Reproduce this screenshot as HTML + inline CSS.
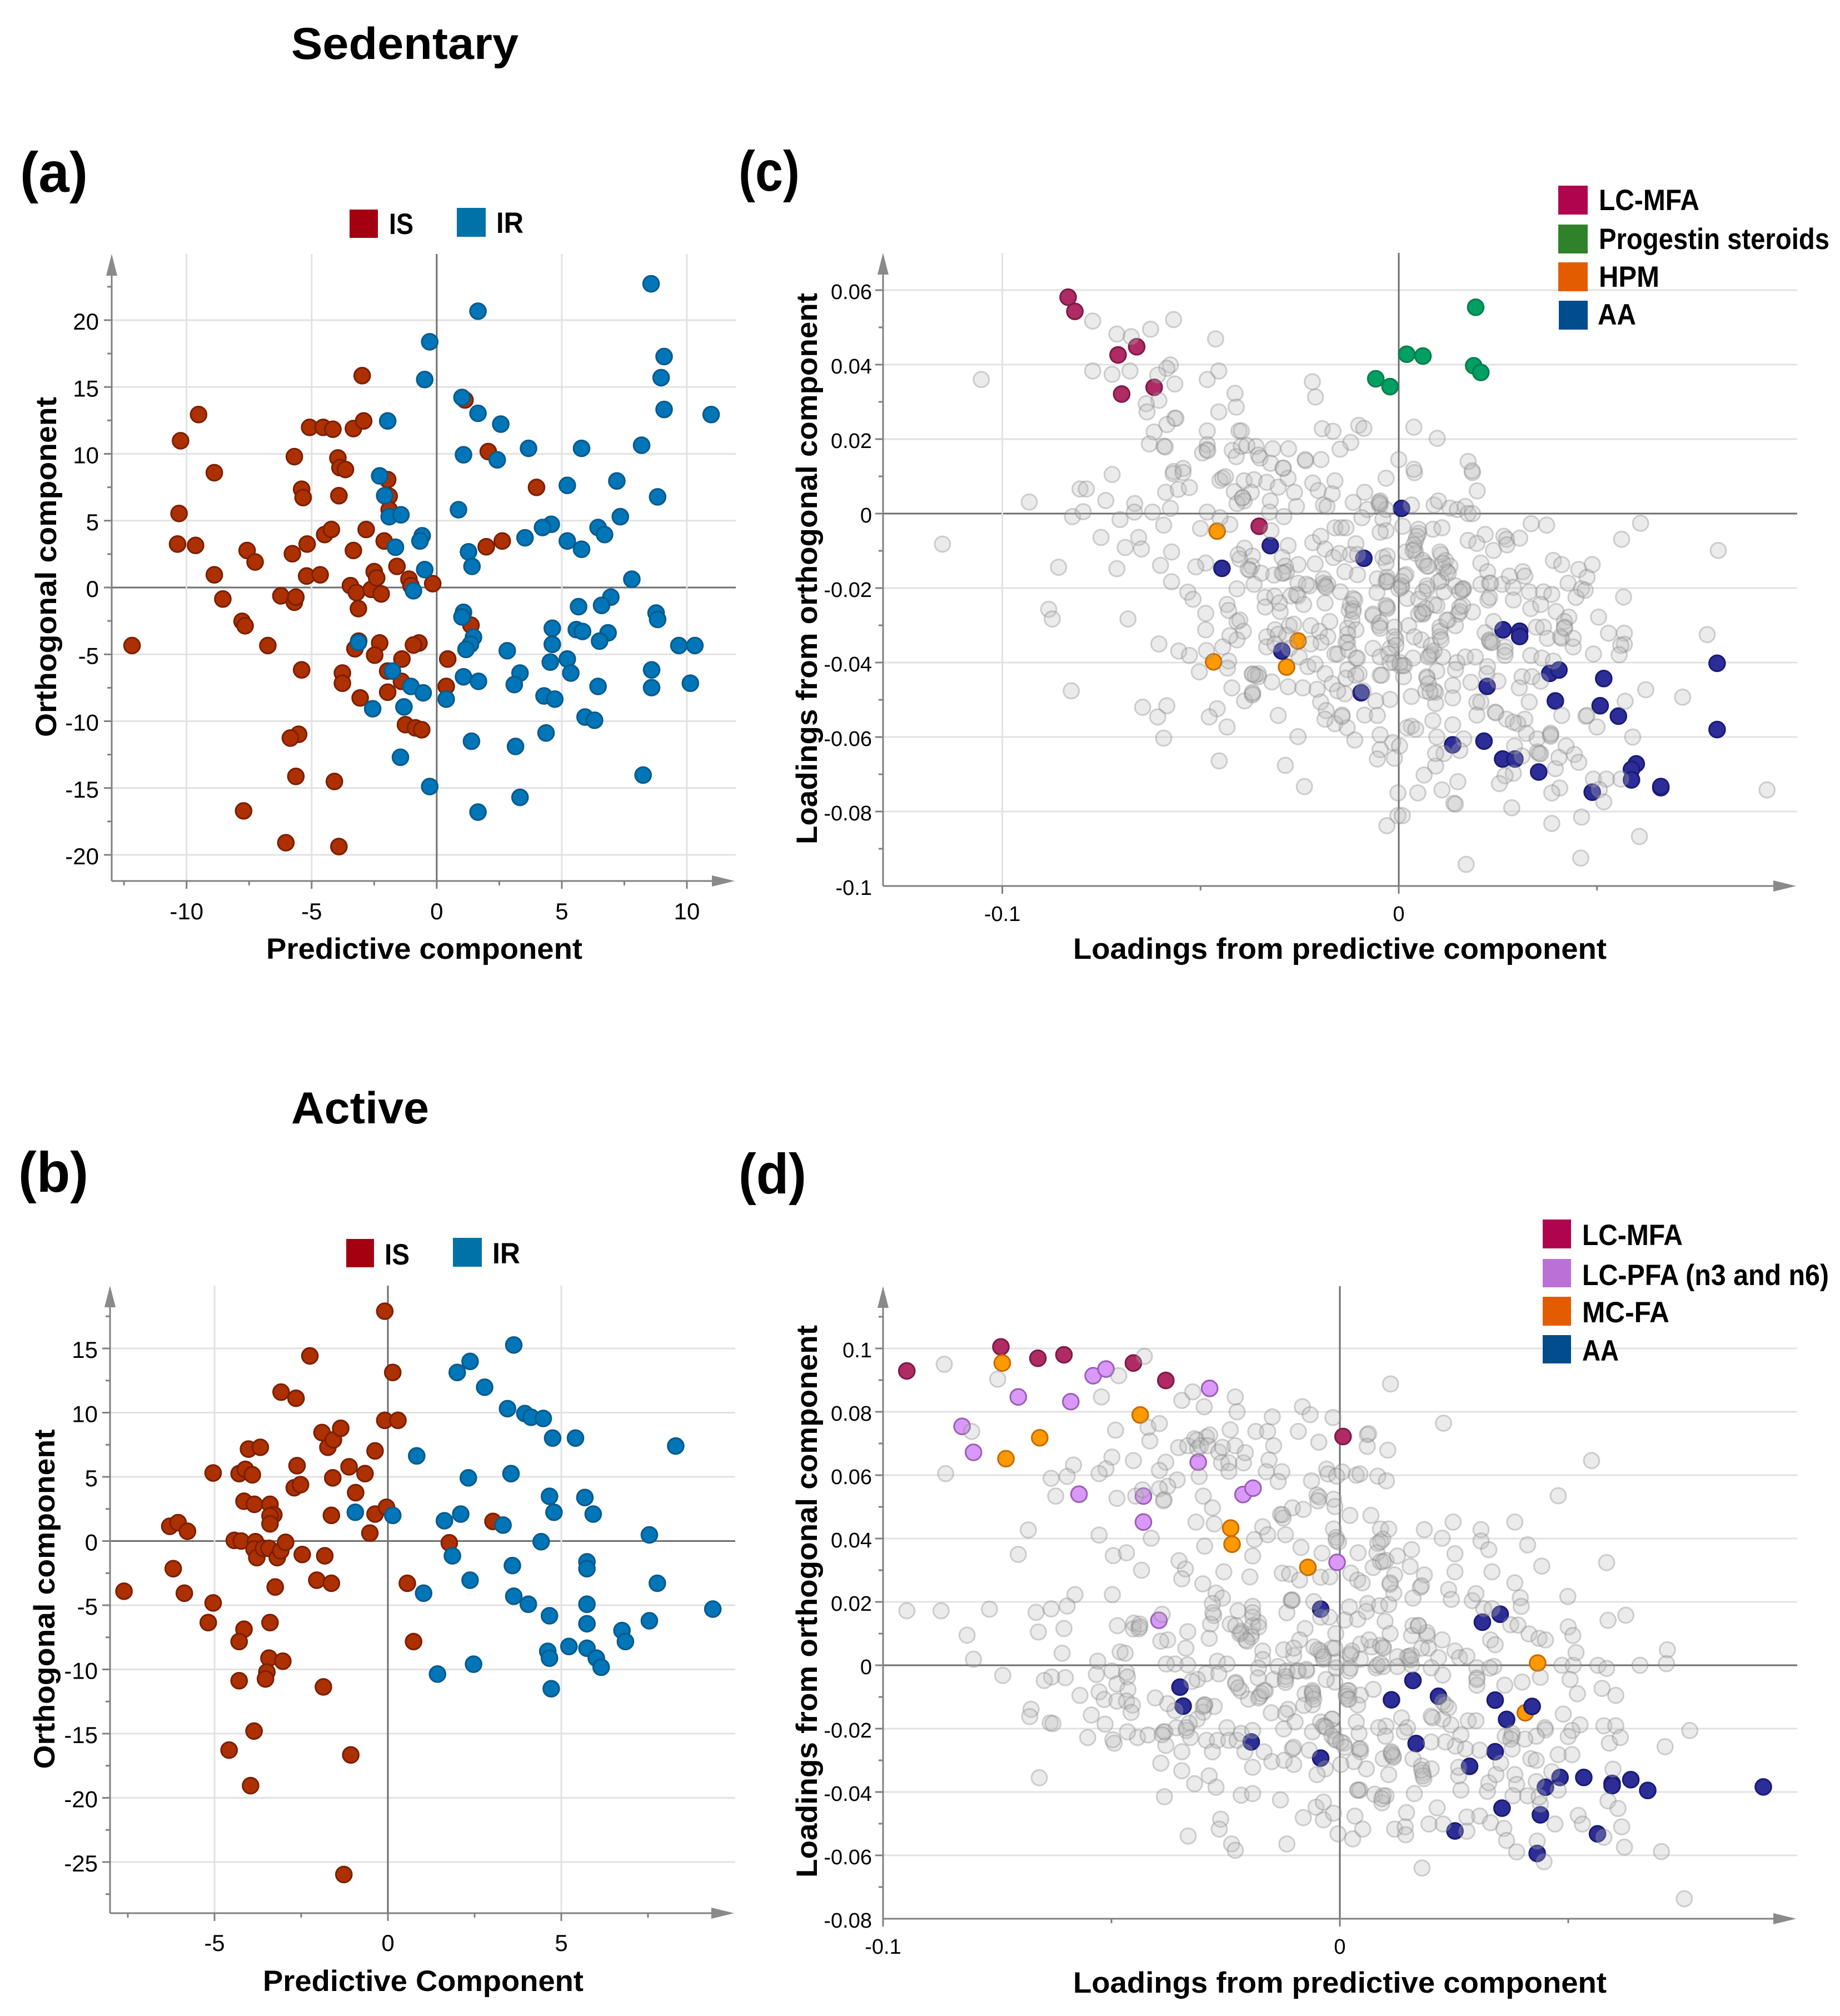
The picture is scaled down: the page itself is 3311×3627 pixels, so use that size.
<!DOCTYPE html>
<html lang="en">
<head>
<meta charset="utf-8">
<title>OPLS-DA scores and loadings: Sedentary and Active</title>
<style>
html,body{margin:0;padding:0;background:#fff}
svg{display:block}
text{font-family:"Liberation Sans",Arial,sans-serif;fill:#000}
.b{font-weight:700}
</style>
</head>
<body>
<svg id="figure" xmlns="http://www.w3.org/2000/svg" width="3311" height="3627" viewBox="0 0 3311 3627">
<rect width="3311" height="3627" fill="#fff"/>
<text class="b" x="524" y="106" font-size="81" textLength="409" lengthAdjust="spacingAndGlyphs">Sedentary</text>
<text class="b" x="524" y="2021" font-size="81" textLength="248" lengthAdjust="spacingAndGlyphs">Active</text>
<text class="b" x="36" y="345" font-size="102" textLength="122" lengthAdjust="spacingAndGlyphs">(a)</text>
<text class="b" x="33" y="2144" font-size="102" textLength="126" lengthAdjust="spacingAndGlyphs">(b)</text>
<text class="b" x="1329" y="343" font-size="102" textLength="110" lengthAdjust="spacingAndGlyphs">(c)</text>
<text class="b" x="1329" y="2147" font-size="102" textLength="122" lengthAdjust="spacingAndGlyphs">(d)</text>

<g id="panel-a"></g>
<g id="panel-b"></g>
<g id="panel-c"></g>
<g id="panel-d"></g>

<text class="b" x="479" y="1725" font-size="53" textLength="569" lengthAdjust="spacingAndGlyphs">Predictive component</text>
<text class="b" text-anchor="middle" transform="translate(101,1020) rotate(-90)" font-size="53" textLength="612" lengthAdjust="spacingAndGlyphs">Orthogonal component</text>
<text class="b" x="473" y="3582" font-size="53" textLength="577" lengthAdjust="spacingAndGlyphs">Predictive Component</text>
<text class="b" text-anchor="middle" transform="translate(98,2877) rotate(-90)" font-size="53" textLength="611" lengthAdjust="spacingAndGlyphs">Orthogonal component</text>
<text class="b" x="1931" y="1725" font-size="53" textLength="960" lengthAdjust="spacingAndGlyphs">Loadings from predictive component</text>
<text class="b" text-anchor="middle" transform="translate(1470,1023) rotate(-90)" font-size="53" textLength="992" lengthAdjust="spacingAndGlyphs">Loadings from orthogonal component</text>
<text class="b" x="1931" y="3585" font-size="53" textLength="960" lengthAdjust="spacingAndGlyphs">Loadings from predictive component</text>
<text class="b" text-anchor="middle" transform="translate(1470,2881) rotate(-90)" font-size="53" textLength="994" lengthAdjust="spacingAndGlyphs">Loadings from orthogonal component</text>

<g>
<rect x="629" y="377" width="51" height="51" fill="#a50010"/>
<text class="b" x="700" y="421" font-size="53" textLength="44" lengthAdjust="spacingAndGlyphs">IS</text>
<rect x="822" y="374" width="52" height="52" fill="#0072a8"/>
<text class="b" x="893" y="419" font-size="53" textLength="49" lengthAdjust="spacingAndGlyphs">IR</text>
</g>
<g>
<rect x="623" y="2229" width="50" height="51" fill="#a50010"/>
<text class="b" x="692" y="2275" font-size="53" textLength="45" lengthAdjust="spacingAndGlyphs">IS</text>
<rect x="815" y="2227" width="52" height="52" fill="#0072a8"/>
<text class="b" x="886" y="2273" font-size="53" textLength="50" lengthAdjust="spacingAndGlyphs">IR</text>
</g>
<g>
<rect x="2804" y="334" width="53" height="52" fill="#b0044f"/>
<text class="b" x="2877" y="378" font-size="53" textLength="181" lengthAdjust="spacingAndGlyphs">LC-MFA</text>
<rect x="2804" y="404" width="53" height="52" fill="#2f8229"/>
<text class="b" x="2877" y="448" font-size="53" textLength="415" lengthAdjust="spacingAndGlyphs">Progestin steroids</text>
<rect x="2804" y="472" width="53" height="52" fill="#e35d00"/>
<text class="b" x="2877" y="516" font-size="53" textLength="109" lengthAdjust="spacingAndGlyphs">HPM</text>
<rect x="2805" y="541" width="52" height="52" fill="#004c8c"/>
<text class="b" x="2875" y="584" font-size="53" textLength="69" lengthAdjust="spacingAndGlyphs">AA</text>
</g>
<g>
<rect x="2776" y="2194" width="51" height="52" fill="#b0044f"/>
<text class="b" x="2847" y="2240" font-size="53" textLength="181" lengthAdjust="spacingAndGlyphs">LC-MFA</text>
<rect x="2776" y="2265" width="51" height="51" fill="#bb70d8"/>
<text class="b" x="2847" y="2312" font-size="53" textLength="444" lengthAdjust="spacingAndGlyphs">LC-PFA (n3 and n6)</text>
<rect x="2776" y="2333" width="51" height="52" fill="#e35d00"/>
<text class="b" x="2847" y="2379" font-size="53" textLength="157" lengthAdjust="spacingAndGlyphs">MC-FA</text>
<rect x="2776" y="2402" width="51" height="51" fill="#004c8c"/>
<text class="b" x="2847" y="2448" font-size="53" textLength="66" lengthAdjust="spacingAndGlyphs">AA</text>
</g>
</svg>

<script>
// ---------- Panel (a): score plot, Sedentary. Pairs are [predictive, orthogonal].
const aXTicks=[-10,-5,0,5,10];
const aXTickLabels=['-10','-5','0','5','10'];
const aXMinorTicks=[-12.5,-7.5,-2.5,2.5,7.5];
const aYTicks=[20,15,10,5,0,-5,-10,-15,-20];
const aYTickLabels=['20','15','10','5','0','-5','-10','-15','-20'];
const aYMinorTicks=[22.5,17.5,12.5,7.5,2.5,-2.5,-7.5,-12.5,-17.5];
const aIS=[[-12.18,-4.34],[-10.36,3.25],[-10.3,5.54],[-10.24,10.98],[-9.64,3.15],[-9.52,12.94],[-8.89,8.59],[-8.89,.95],[-8.55,-.86],[-7.78,-2.53],[-7.66,-2.86],[-7.58,2.77],[-7.26,1.91],[-6.75,-4.34],[-6.23,-.62],[-5.77,2.53],[-5.69,-1.1],[-5.63,-.72],[-5.4,-6.16],[-5.4,7.35],[-5.34,6.73],[-5.69,9.79],[-5.18,3.25],[-5.2,.86],[-4.66,.95],[-5.08,11.98],[-4.54,11.98],[-4.15,11.84],[-4.48,3.96],[-4.21,4.34],[-3.95,9.69],[-3.87,8.97],[-3.65,8.83],[-3.91,6.87],[-3.33,11.89],[-2.92,12.46],[-2.98,15.85],[-2.82,4.34],[-3.33,2.77],[-3.45,.14],[-3.21,-.38],[-3.13,-1.58],[-2.62,-.14],[-2.5,1.19],[-2.4,.72],[-2.22,-.48],[-2.1,3.48],[-1.59,1.58],[-1.11,.62],[-1.03,.14],[-1.96,8.07],[-1.9,6.83],[-1.9,5.82],[-.16,.29],[1.37,-2.82],[1.13,14.03],[2.06,10.17],[3.99,7.49],[1.98,3.05],[2.62,3.48],[-3.12,-4.01],[-3.27,-4.58],[-2.28,-4.15],[-2.48,-5.06],[-1.39,-5.35],[-.71,-4.15],[-.93,-4.3],[.44,-5.35],[-1.96,-6.25],[-1.41,-7.02],[-3.77,-6.4],[-3.77,-7.16],[.38,-7.4],[-1.96,-7.83],[-3.06,-8.26],[-1.25,-10.26],[-.85,-10.5],[-.6,-10.64],[-5.52,-10.98],[-5.85,-11.26],[-5.63,-14.13],[-4.09,-14.51],[-7.72,-16.71],[-6.03,-19.09],[-3.91,-19.38]];
const aIR=[[8.57,22.72],[1.65,20.67],[-.28,18.38],[9.09,17.28],[8.97,15.7],[-.48,15.56],[1.01,14.22],[1.65,13.03],[9.09,13.32],[10.97,12.94],[-1.96,12.46],[2.56,12.22],[8.19,10.64],[3.67,10.41],[5.79,10.41],[1.07,9.93],[2.42,9.55],[7.2,7.97],[-2.28,8.35],[5.22,7.64],[-2.08,6.87],[8.83,6.78],[.87,5.82],[-1.9,5.3],[-1.43,5.44],[7.34,5.3],[4.58,4.73],[4.23,4.49],[6.45,4.49],[6.71,3.96],[-.58,3.87],[-.67,3.48],[3.53,3.72],[5.22,3.48],[-1.65,3.01],[5.79,2.86],[1.27,2.67],[1.41,1.58],[-.48,1.34],[7.8,.62],[-.93,-.24],[6.96,-.72],[6.59,-1.34],[5.67,-1.43],[1.07,-1.86],[1.01,-2.2],[8.77,-1.91],[8.83,-2.39],[4.62,-3.05],[5.58,-3.15],[5.83,-3.29],[6.85,-3.39],[1.47,-3.72],[6.51,-4.01],[-3.13,-4.11],[4.62,-4.25],[1.35,-4.25],[1.17,-4.63],[9.68,-4.34],[10.32,-4.34],[2.82,-4.73],[5.22,-5.35],[4.54,-5.58],[3.33,-6.4],[5.36,-6.4],[-1.77,-6.25],[1.07,-6.68],[1.67,-7.02],[8.59,-6.16],[8.59,-7.49],[10.14,-7.16],[3.1,-7.26],[6.45,-7.4],[-1.03,-7.4],[-.54,-7.88],[4.29,-8.11],[4.72,-8.35],[.38,-8.35],[-2.56,-9.07],[-1.31,-8.93],[5.93,-9.69],[6.31,-9.93],[4.37,-10.88],[1.39,-11.5],[3.15,-11.89],[-1.45,-12.7],[8.25,-14.03],[-.28,-14.89],[3.33,-15.7],[1.65,-16.8]];

// ---------- Panel (b): score plot, Active.
const bXTicks=[-5,0,5];
const bXTickLabels=['-5','0','5'];
const bXMinorTicks=[-7.5,-2.5,2.5,7.5];
const bYTicks=[15,10,5,0,-5,-10,-15,-20,-25];
const bYTickLabels=['15','10','5','0','-5','-10','-15','-20','-25'];
const bYMinorTicks=[17.5,12.5,7.5,2.5,-2.5,-7.5,-12.5,-17.5,-22.5,-27.5];
const bIS=[[-7.61,-3.91],[-6.29,1.15],[-6.05,1.43],[-5.78,.76],[-6.19,-2.15],[-5.87,-4.06],[-5.04,5.3],[-5.04,-4.82],[-5.18,-6.35],[-4.43,.05],[-4.23,0],[-4.29,5.25],[-4.11,5.58],[-3.91,5.16],[-4.02,7.16],[-3.68,7.3],[-4.15,3.1],[-3.85,2.86],[-3.4,2.86],[-3.29,2.05],[-3.4,1.96],[-3.4,1.34],[-3.82,-.05],[-3.86,-.62],[-3.78,-1.29],[-3.59,-.57],[-3.43,-.57],[-3.19,-1.29],[-3.09,-.76],[-2.95,-.1],[-2.7,4.15],[-2.52,4.39],[-2.62,5.87],[-2.25,14.42],[-3.08,11.6],[-2.65,11.12],[-1.9,8.45],[-1.73,7.3],[-1.57,7.88],[-1.36,8.78],[-1.12,5.78],[-.66,5.25],[-.37,7.02],[-1.59,4.92],[-.93,3.77],[-1.63,2],[-.37,2.1],[-.52,.62],[-2.47,-1.05],[-1.82,-1.15],[-2.05,-3.05],[-1.63,-3.29],[-3.25,-3.58],[-3.4,-6.35],[-4.15,-6.87],[-4.29,-7.83],[-3.43,-9.12],[-3.03,-9.36],[-3.49,-10.21],[-3.53,-10.74],[-4.29,-10.88],[-1.86,-11.36],[-3.86,-14.8],[-4.58,-16.28],[-3.96,-19.05],[-1.07,-16.66],[-1.27,-25.97],[-.09,17.9],[.14,13.13],[-.09,9.4],[.29,9.4],[-.04,2.63],[1.77,-.14],[3.03,1.53],[.56,-3.29],[.74,-7.83]];
const bIR=[[3.63,15.27],[2,13.13],[2.37,13.99],[2.79,11.98],[3.45,10.31],[3.95,9.93],[4.13,9.64],[4.48,9.55],[4.75,8.02],[5.41,8.02],[8.3,7.4],[.83,6.63],[3.55,5.25],[2.32,4.92],[4.66,3.48],[5.68,3.39],[4.79,2.24],[5.92,2.1],[2.1,2.1],[1.63,1.58],[.14,2],[-.94,2.24],[3.32,1.24],[7.54,.48],[4.42,-.05],[1.86,-1.15],[3.59,-1.91],[5.74,-1.62],[5.74,-2.15],[2.37,-3.05],[7.77,-3.29],[1.03,-4.06],[3.63,-4.3],[4.05,-4.92],[5.74,-4.92],[9.37,-5.3],[4.66,-5.82],[7.54,-6.21],[5.74,-6.44],[6.75,-6.97],[6.85,-7.83],[5.22,-8.21],[5.74,-8.35],[4.61,-8.59],[4.66,-9.12],[6.01,-9.12],[6.15,-9.83],[2.47,-9.59],[1.43,-10.36],[4.71,-11.5]];

// ---------- Panel (c): loadings, Sedentary. Pairs are in thousandths of a loading.
const cXTicks=[-0.1,0];
const cXTickLabels=['-0.1','0'];
const cXMinorTicks=[-0.05,0.05];
const cYTicks=[0.06,0.04,0.02,0,-0.02,-0.04,-0.06,-0.08];
const cYTickLabels=['0.06','0.04','0.02','0','-0.02','-0.04','-0.06','-0.08'];
const cYExtraLabels=['-0.1'];
const cYExtraTicks=[-0.1];
const cYMinorTicks=[0.05,0.03,0.01,-0.01,-0.03,-0.05,-0.07,-0.09];
const cLcMfa=[[-83.4,58.1],[-81.7,54.3],[-70.8,42.6],[-66.1,44.8],[-69.9,32.1],[-61.7,33.9],[-35.2,-3.4]];
const cProgestin=[[19.4,55.4],[2,42.8],[6.1,42.3],[-5.8,36.2],[-2.2,34.1],[18.9,39.7],[20.7,37.9]];
const cHpm=[[-45.8,-4.7],[-46.7,-39.8],[-25.4,-34.2],[-28.3,-41.2]];
const cAa=[[.7,1.4],[-32.4,-8.6],[-44.6,-14.7],[-8.8,-12],[-29.5,-36.9],[-9.5,-48.1],[26.3,-31.2],[30.5,-31.6],[30.5,-33],[38.1,-42.9],[40.4,-42],[22.3,-46.4],[39.5,-50.3],[13.6,-62.1],[21.5,-61.1],[26.2,-65.9],[29.3,-65.9],[35.3,-69.4],[51.7,-44.3],[50.8,-51.6],[55.4,-54.4],[80.3,-40.2],[80.3,-58],[59.9,-67.2],[58.7,-68.7],[58.7,-71.5],[66.1,-73.6],[66.1,-73.3],[48.8,-74.8]];
const cOther=[[-77.2,51.7],[-71.1,48.2],[-67.5,47.5],[-62.6,49.5],[-56.8,52.1],[-46.2,46.9],[-77.2,38.3],[-72.3,37.4],[-67.8,38.3],[-57.6,39.9],[-58.5,39],[-60.8,37.2],[-56.5,34.8],[-45.4,38.3],[-48.3,36],[-105.3,36],[-41.3,32.3],[-41,28.6],[-45.4,27.3],[-60.5,30.4],[-63.7,29.5],[-63.5,27.3],[-56.5,25.6],[-56.2,25.6],[-58.5,23.9],[-61.7,21.9],[-48.3,22.2],[-40.3,22.2],[-39.7,22.2],[-62.9,18.7],[-59.2,18.1],[-58.9,17.9],[-48.3,18.5],[-48.4,17.2],[-49.5,16.3],[-48.2,16.9],[-42,17],[-41,15.3],[-39.7,18.1],[-38.3,18.3],[-36,18],[-35.4,15.7],[-35,14.9],[-31.8,17.4],[-27.8,17.4],[-32.3,13.5],[-29.1,12.2],[-23.5,14.2],[-56.8,11.3],[-54.4,12.1],
[-72.3,10.5],[-80.4,6.6],[-78.8,6.6],[-93.2,3.1],[-73.9,3.5],[-66.6,2.7],[-66.7,.4],[-82.3,-.8],[-79.6,.5],[-70.3,-1.6],[-115.1,-8.2],[-75.1,-6.4],[-69,-9.1],[-65.6,-6.4],[-85.8,-14.4],[-71.1,-14.8],[-68.3,-28.3],[-88.3,-25.7],[-87.4,-28.3],[-82.6,-47.6],
[-56.9,10.7],[-54.4,11],[-45.1,8.9],[-44.4,9.5],[-43.7,9.9],[-39,8.8],[-36.5,9.1],[-33.3,8.4],[-30.4,7.1],[-27.9,9.5],[-21.7,8.2],[-16.1,8.8],[-3.2,9.5],[4,11],[18.6,11],[19.8,6.1],[-26.3,5.7],[-20.3,6.2],[-16.8,5.3],[-58.8,5.7],[-55.6,6.5],[-52.8,7],[-41.5,5.9],[-37.2,5.7],[-39.4,4.3],[-39,3.4],[-40.8,2.7],[-32.4,3.4],[-25.8,1.9],[-19,2.3],[-18.1,1.9],[-11.5,3],[-8.6,5.7],[-4.7,3.4],[-4.8,2.3],[-3.2,1.1],[3.2,2.3],[8.9,2.3],[10,3.4],[12.9,1.5],[14.8,1.1],[16.8,1.9],[17.5,0],[18.6,0],[-62.1,.4],[-57.6,1.4],[-48.3,.4],[-32.6,.4],[-29,-.8],[-7.9,1.1],[-9.3,-1.1],[-4,-1.5],[1,-3.4],[8.6,-4.2],[10.9,-3.8],[33.4,-2.7],[37.3,-3.1],[-59.3,-3.1],[-50,-4],[-42.6,-2.9],[-45.1,-1.1],[-32.2,-4.6],[-27.9,-8.6],
[-21.7,-7.8],[-19.7,-6.1],[-18.6,-9.5],[-16.1,-3.8],[-14.5,-3.8],[-13.3,-3.8],[-10.8,-8.1],[-3.2,-4.6],[-4.7,-5],[5,-5.3],[4.3,-7.2],[4,-9.5],[4.3,-10.7],[17.5,-7.2],[21.8,-5.6],[19.7,-8],[23.9,-9.9],[26.5,-6.1],[27.2,-6.9],[27.3,-8.4],[30.5,-6.6],[-57.3,-10.3],[-64.9,-9.5],[-38.9,-9.3],[-36.9,-11.4],[-40.1,-12.2],[-48.7,-13.3],[-51.2,-14.3],[-60.1,-13.9],[-37.1,-14.1],[-37.6,-15.2],[-34.7,-16],[-29.4,-11.8],[-28.6,-14.1],[-29,-16],[-31.5,-16.5],[-25.4,-13.7],[-21.1,-13.5],[-16.5,-11.8],[-15,-10.7],[-12.2,-11],[-10.4,-11],[-4,-11.8],[-2.9,-11.4],[-3.2,-13.3],[1.8,-10.3],[10.7,-11],[11.8,-12.6],[6.4,-13.3],[7.5,-14.1],[11.4,-14.8],[12.9,-14.1],[12.1,-15.6],[20.7,-13.3],[22.4,-15.6],[39,-12.6],[41.1,-13.7],[31.3,-15.6],[45.4,-15],[-13.6,-15.6],[-10.4,-16.4],[-5.4,-17.5],[-2.9,-17.9],[1.8,-16.4],[10.7,-17.9],[14.3,-19.4],[16.4,-20.2],[20.7,-19],[22.9,-18.7],[26.1,-19],[27.9,-16.8],[31.8,-16.8],[28.9,-19.8],[32.9,-21],[36.5,-21],[42.7,-18.7],[46.1,-20.2],[-57.3,-18.3],[-40.8,-20.2],[-36.5,-19],[-53.2,-21.1],[-51.9,-23],[-33.7,-22.5],[-33.7,-25.1],[-31.3,-22.2],[-29.9,-26.3],[-27.2,-22.1],[-25.4,-22.1],[-24,-24.4],[-25.4,-18.7],[-22.6,-19.4],[-19,-18.7],[-17.9,-19],[-18.6,-24],[-14.7,-21],[-11.5,-22.8],[-5.5,-21.2],[-2.9,-18.3],[.7,-19.8],[2.1,-22.8],[7.1,-20.2],[5,-23],[8.9,-24.4],[11.4,-21],[16.1,-20.6],[22.5,-23.2],[22.9,-22.5],[28.9,-23.2],[33.3,-25.5],[35.8,-24.4],[38.6,-21.7],[39.7,-26.3],[44.7,-22.5],[-43.3,-24.4],[-48.7,-26.8],[-42.9,-26],[-40.8,-29],[-40.1,-28.6],[-48.7,-31.2],[-39.2,-31.6],[-40.8,-33.9],[-42.6,-32.8],[-12.5,-25.9],[-11.5,-25.5],[-2.9,-25.1],[5.7,-26.3],[6.1,-27],[9.6,-24.7],[15.4,-25.1],[18.6,-26.4],[42.9,-27.8],[41.8,-29],[41.8,-30.5],[-11.8,-28.6],[-12.9,-30.8],[-10.8,-31.2],[-6.5,-27.4],[-5,-30.1],[-17.4,-29],[-22.2,-30.1],[-27.6,-30.1],[-26.5,-29.7],[-31.2,-31.2],[-28.3,-32.7],[-33.3,-33.1],[-30.4,-32.4],[-20,-31.6],[-17.9,-33.1],[-19.6,-34.6],[-22.2,-35],[-1.1,-30.5],[2.5,-30.1],[10.4,-30.5],[12.5,-28.6],[15,-27],[14.3,-30.1],[10.4,-33.1],[5.7,-33.9],[3.9,-33.1],[21.8,-32],[23.2,-34.6],[23.9,-29],[22.9,-33.9],[26.8,-35.8],[26.8,-38.1],[34.7,-30.5],[36.5,-30.5],[37.5,-33.5],[41.1,-33.5],[44,-35.8],[40.8,-33.1],
[-60.5,-35],[-55.5,-36.9],[-52.8,-38.1],[-48.5,-36.8],[-44.4,-35.8],[-42.9,-39.6],[-43.2,-41.5],[-50.3,-42.5],[-35.4,-43],[-36.9,-43.2],[-33.3,-35.8],[-31.2,-35],[-27.6,-36.2],[-25.1,-38.5],[-22.9,-41.1],[-21.1,-40.4],[-18.6,-43],[-16.8,-45.7],[-16.1,-37.7],[-15.4,-37.7],[-12.9,-34.6],[-10.8,-38.8],[-12.9,-41.9],[-10,-43],[-6.5,-36.2],[-4.7,-38.5],[-2.2,-36.2],[-.7,-33.9],[-1.1,-40],[.3,-40.8],[1.4,-40.8],[3.6,-38.8],[7.9,-38.1],[8.2,-37.7],[11.1,-38.5],[14.7,-40],[16.8,-38.5],[19.3,-38.5],[22.4,-41.1],[33.3,-38.1],[36.1,-38.8],[39,-39.6],[31.1,-43.8],[33.6,-43.8],[35.8,-45],[30.4,-46.8],[25,-45],[22.2,-43],[18.2,-45.3],[-35.4,-43.8],[-36.9,-48.4],[-42.1,-46.8],[-32,-45.2],[-27.9,-46.5],[-24.2,-46.8],[-20.6,-47.2],[-13.3,-44.2],[-4.7,-43.4],[1.2,-43.8],[7.1,-43.8],[9.6,-42.3],[14.3,-41.9],[13.6,-46.1],[13.6,-49.5],[9.3,-48],[6.8,-47.6],[3.2,-49.1],[-2.2,-49.9],[-5.8,-50.3],[-9,-47.6],[-13.6,-48.4],[-15.4,-47.6],[-38.9,-50.3],[-36.9,-48.7],[-19.7,-50.6],[-18.3,-52.9],[-14.3,-54.1],[-16.1,-56.4],[-18.6,-55.2],[-8.6,-54.1],[-5.4,-54.2],[-13,-57.5],[-11.1,-60.8],[-45.8,-52.4],[-47.8,-54.6],[-43.3,-57.3],[-58.5,-51.6],[-64.6,-52],[-60.8,-54.6],[-59.3,-60.3],[-30.4,-54.2],[-25.4,-59.9],[-45.3,-66.4],[-28.6,-67.6],[-23.8,-73.3],[9.3,-51],[8.6,-55.6],[13.6,-56.7],[9.6,-60],[16.4,-60.5],[3.2,-57.1],[2.1,-57.5],[4.3,-57.9],[-4.7,-59.4],[-1.5,-61.5],[.2,-62.4],[-4.7,-63.4],[-5.4,-65.9],[-1.1,-65.7],[9.3,-67.8],[11.4,-64.4],[9.3,-64.4],[15.4,-63.6],[6.4,-70.2],[4.8,-75],[-.2,-75],[10.9,-74.2],[14.9,-72],[13.9,-77.8],[14.3,-78],[-.2,-81.1],[.9,-81.1],[-3,-83.8],[17,-94.2],[19.7,-50.6],[20.7,-50.6],[19.7,-54.1],[24.3,-53.3],[24.5,-53.5],[27.2,-55.2],[31.8,-55.2],[30,-56.4],[28.9,-56],[32.9,-50.6],[41.1,-54.2],[32.2,-59],[38.3,-59.8],[38.3,-59],[34.9,-60.5],[35,-64],[35.8,-64.5],[29.2,-62.4],[31.1,-65.1],[28.9,-69.7],[26.8,-70.4],[25.4,-72.5],[28.5,-79],[40.6,-73.7],[38.6,-75],[39.5,-68.5],[42.2,-62.4],[44.3,-64.7],[40.4,-65.5],[45.4,-66.8],[46.1,-81.5],[38.6,-83.2],[45.9,-92.5],[47.2,-54.4],
[-21.8,35.4],[-21,31.3],[-19.3,22.8],[-16.6,22.1],[-10.1,23.7],[-8.8,22.9],[-12.1,19.1],[-14.8,17.3],[3.8,23.2],[9.7,20.2],[0,14.5],[3.8,11.9],[17.5,14],[18.5,11.5],[-23.6,14.5],[-19.6,14.5],[-29.2,12.2],[56.2,-6.9],[61,-2.6],[80.6,-9.9],[48.8,-13.7],[47.5,-17.1],[47,-20.6],[56.7,-22.4],[50.4,-27.8],[52.9,-32.1],[56.9,-32.1],[56.9,-35.1],[56,-35.4],[49.1,-37.7],[55.6,-37.9],[77.8,-32.5],[62.3,-47.3],[71.6,-49.3],[57.1,-50.4],[47.5,-54.2],[50,-57.3],[59,-60],[49.1,-71.3],[52.4,-71.3],[56,-71.3],[50.6,-74.1],[51.7,-77.4],[60.7,-86.7],[92.9,-74.2]];
const cOtherCluster=[[5,-4.2],[4.6,-6.1],[3.8,-8.4],[3.6,-9.9],[6.1,-12.6],[7.1,-14.1],[10.4,-10.3],[11.1,-13.3],[12.5,-16],[10,-18.3],[-2.9,-17.1],[-3.2,-18.3],[.7,-18.3],[.7,-19.4],[1.4,-16.8],[0,-20.2],[7.1,-19.4],[6.1,-21],[-12.2,-24.4],[-11.1,-23.2],[-11.5,-26.3],[-2.9,-25.5],[-3.2,-24.7],[6.1,-26.7],[5,-27],[6.8,-25.5],[-6.5,-27],[-4.7,-29.3],[-4.7,-30.8],[-12.9,-32.4],[-13.3,-34.6],[-12.7,-36.6],[-10.4,-38.8],[-1.1,-33.1],[-.7,-35.4],[-2.5,-37.7],[.3,-40],[1,-40.8],[-2.2,-40],[8.2,-35.4],[8.9,-36.9],[7.5,-38.5],[10.4,-31.6],[10.7,-33.9],[12.1,-28.6],[15.4,-26.3],[16.1,-24.7],[16.1,-20.2],[15.4,-21],[-28.3,-15.6],[-29.4,-16],[-23.3,-19],[-19,-17.5],[-18.6,-19.4],[-18.3,-19.8],[-25.8,-21.7],[-30.1,-24],[23.2,-18.7],[22.9,-34.3],[23.6,-34.6],[26.8,-37],[7.1,-44.2],[7.5,-45.7],[8.9,-47.6],[7.9,-48],[-4.3,-43.4],[-10.8,-43.4],[-36.9,-43],[-36.2,-43.4],[-36.9,-48],[-38,-14.9],[-40.5,-11],[-39.4,4.2],[-4.7,2.7],[-5,3],[-14.3,-54.5],[35.4,-64.4],[38.3,-59.4],[44,-33.5],[41.8,-30.8]];

// ---------- Panel (d): loadings, Active. Pairs are in thousandths of a loading.
const dXTicks=[-0.1,0];
const dXTickLabels=['-0.1','0'];
const dXMinorTicks=[-0.05,0.05];
const dYTicks=[0.1,0.08,0.06,0.04,0.02,0,-0.02,-0.04,-0.06];
const dYTickLabels=['0.1','0.08','0.06','0.04','0.02','0','-0.02','-0.04','-0.06'];
const dYExtraLabels=['-0.08'];
const dYExtraTicks=[-0.08];
const dYMinorTicks=[0.11,0.09,0.07,0.05,0.03,0.01,-0.01,-0.03,-0.05,-0.07];
const dLcMfa=[[-94.8,92.9],[-74.2,100.5],[-66.1,96.9],[-60.4,98],[-45.2,95.4],[-38.1,89.9],[.7,72.2]];
const dLcPfa=[[-82.7,75.4],[-80.2,67.2],[-70.4,84.7],[-58.9,83.2],[-54,91.4],[-51.2,93.5],[-28.5,87.4],[-57.1,54],[-43,53.4],[-43,45.2],[-39.6,14.2],[-31,64.1],[-21.2,53.9],[-19,55.9],[-.6,32.5]];
const dMcFa=[[-73.9,95.4],[-43.7,79],[-65.7,71.8],[-73.1,65.2],[-23.9,43.3],[-23.6,38.2],[-7,30.9],[43.3,.7],[40.6,-15]];
const dAa=[[-35,-6.9],[-34.3,-12.9],[-4.2,17.7],[31.2,13.6],[35.1,16.1],[16,-4.8],[11.3,-10.9],[21.6,-9.8],[34,-11],[42.1,-13],[36.5,-17.1],[-19.4,-24.2],[-4.2,-29.3],[16.7,-24.7],[34,-27.3],[28.4,-31.9],[48.2,-35.4],[45,-38.5],[35.5,-45.1],[43.9,-47.2],[25.2,-52.3],[43.2,-59.4],[53.4,-35.4],[59.6,-37.3],[59.6,-38],[63.7,-36.1],[67.4,-39.5],[92.7,-38.4],[56.4,-53.2]];
const dOther=[[-86.6,95],[-74.9,90.3],[-42.8,97.5],[-48.4,91.4],[-52.2,84.7],[-34.6,83.6],[-32.2,86.3],[-29.7,81.6],[-22.9,84.7],[-22.5,80],[-8.2,81.6],[-80.6,73.8],[-49.1,74.2],[-42,75.1],[-39.5,76.3],[-41.6,70.8],[-35.3,68.7],[-33.3,69.3],[-31.8,71.5],[-31.3,71],[-29.2,72],[-28.5,72.7],[-31.1,68.4],[-30.5,69.3],[-28.9,69.3],[-26.5,67.3],[-25.7,68.8],[-24,74.3],[-22.9,69.3],[-18.4,73.8],[-15.8,73.8],[-14.5,69.3],[-14.8,78.4],[-9.1,73.8],[-49.9,65.7],[-45.2,64.6],[-38.1,64.1],[-39.5,61.5],[-86.3,60.5],[-58.3,63.2],[-51.2,62],[-52.7,60.5],[-59.7,59.6],[-63.2,59],[-62.2,53.4],[-35.6,58.5],[-37.7,56.5],[-39.5,55.7],[-44.7,53.4],[-43.2,55.4],[-48.8,52.7],[-38.5,52.3],[-30.8,59.6],[-29.9,53.4],[-25.9,63.9],[-24.3,63.9],[-24.3,61.2],[-21.1,63.9],[-20.7,67.1],[-15.5,64.8],[-16.1,61.1],[-12.7,61.1],[-13.5,58],
[-52.7,41.1],[-68.2,42.7],[-70.4,35],[-49.6,34.6],[-46.7,35.5],[-49.8,22.3],[-58,22.3],[-59.7,18.7],[-63.2,17.8],[-66.5,16.7],[-76.7,17.7],[-87.3,17.2],[-94.8,17.2],[-66,10.5],[-60.4,11.6],[-81.6,9.5],[-80.2,1.9],[-73.8,-3.2],[-60.8,3.8],[-53,1.3],[-48.1,4.2],[-47,3.8],[-48.7,12.5],[-45.1,13.3],[-45.2,11.5],[-44,11.5],[-49.9,-1.8],[-53.3,-2.9],[-46.7,-2.3],[-48.8,-5.9],[-46.5,-3.7],[-46.4,-7.7],[-52.7,-8.4],[-56.9,-9.5],[-51.6,-10.8],[-48.8,-11.3],[-46.7,-11.3],[-45.4,-12.6],[-60.1,-3.9],[-63.1,-3.7],[-64.7,-4.8],[-67.6,-13.9],[-67.9,-16.2],[-54.4,-15.7],[-45.7,-14.9],[-55.2,-22.8],[-51.4,-18.6],[-49.4,-24.6],[-44.3,-22.8],[-63.4,-18.2],[-62.8,-18.4],[-65.8,-35.5],[-46.5,-21],[-49.7,-23.5],
[-6.5,79.1],[-1.5,78.2],[-4.6,70.4],[6,72.8],[6.3,73.1],[10.5,67.9],[6,69.1],[-2.9,61.9],[-2.6,60.4],[.5,61],[3.6,60],[4.4,60.4],[8.3,59.7],[10.2,58.2],[-.7,59.7],[-6.2,58.2],[-5,53.7],[-4.5,53.1],[-1.4,52.4],[11.1,88.8],[22.7,76.4],[55.1,64.6],[47.8,53.5],
[-38.6,51.9],[-27.9,49.7],[-31.5,45.2],[-27.5,44.6],[-41.3,40.1],[-29.6,37.6],[-35.2,33],[-33.8,30.4],[-34.6,27.3],[-43.4,30],[-25.4,29.5],[-19.7,27.9],[-30,25.7],[-27.1,22.8],[-25.7,21.2],[-27.9,19.5],[-27.6,15.7],[-28.3,13],[-28.6,8.5],[-22.3,17.2],[-19.1,18.6],[-19.1,34.5],[-18.7,39.7],[-16.9,43.7],[-15.8,41.2],[-11.9,41.2],[-13,47.6],[-12.4,46.5],[-10.4,49.7],[-8,49.2],[-4.8,51.9],[-1.1,50.1],[2.2,47.3],[6.8,47.3],[-1.4,43],[-.8,40.3],[-.3,38.9],[-8.5,37.2],[-3.9,35.4],[-12.6,29.1],[-11,28.8],[-8.8,26.9],[-4.2,27.8],[-2.2,27.9],[-10.6,20.6],[-10.6,20.4],[-5.7,20.1],[-11.6,16.6],[-7.6,11.6],[-4.2,15.2],[-2.3,15.2],[-.9,10],[1.1,14.3],[2.1,18.4],[3.9,14.5],[4,35.5],[2.4,29.1],[3.9,26.9],[4.9,26],[6.1,19.5],[5.8,17],[8.7,18.8],[10.7,19.2],[9.9,13.9],[11,10],[8.9,43],[10.7,43],[9.4,39.8],[8.3,38.5],[8.1,35.5],[7.3,30.9],[8.9,32.7],[10.1,33.1],[12.6,34.5],[12,28.5],[11,25.5],[11.8,22.8],[15.4,31.2],[15.7,36.5],[18.5,28.5],[17.6,24.6],[16,21.2],[18.5,42.8],[22.4,40.1],[24.8,45.2],[25.2,35.2],[25.2,29.5],[23.8,23.9],[24.4,20.8],[29,20.4],[29.8,22.6],[30.9,42.8],[30.9,39.2],[32.6,36.5],[33.3,29.5],[38.3,45.2],[41.1,38],[44.2,31.3],[38.3,26],[39.5,21.3],[39.7,18.6],[49.9,21.7],[31.5,17.9],[33.3,17.9],[37.4,12.8],[39,12.7],[41.4,9.9],[43.6,8.5],[45,8],[50,12.1],[51,9.4],[33,8],[34,6.5],[25.2,4.5],[26.2,2.4],[27.8,2.9],[22.4,8],[16,12.5],[17.2,12.5],[15.7,9.4],[19.1,9.4],[19.4,5.4],[21.6,2.4],[17.9,5.4],[15.1,2.7],[12.6,2.7],[9.5,5.8],[7,5.8],[4.5,6.7],[6.4,8],[2.3,3.1],[-1.7,5.4],[-3.9,3.6],[-5.7,5.8],[-8.8,8],[-10.1,3.1],[-12.3,4.9],[-16.9,4.5],[-16.9,1.8],[-20.6,8],[-19.4,9.9],[-17.8,13.5],[-19.1,15.2],[-21.6,10.3],[-24,13],[-26.8,1.3],[-24.7,.4],[-29.3,-2.7],[-26.5,-2.7],[-31.2,-4.5],[-32.4,-5.1],[-33.3,.1],[-36.1,.4],[-38,.4],[-33.7,5.4],[-37.7,8],[-39.2,7.6],[-33.3,10.6],[-38.9,16.1],[-43.8,13],[-43.8,12.1],[-17.8,-.9],[-17.9,-4],[-14.5,-4.5],[-11.9,-4.5],[-13.5,-.4],[-11.6,-1.8],[-9.4,-1.8],[-7.3,-1.8],[-3.6,1.9],[-.8,1],[2,-1.8],[4.5,1.9],[7.9,-.8],[9.5,-.4],[12.6,-.4],[15.7,.1],[20,-.8],[22.5,-3.1],[30,-.8],[33.7,-.4],[39.9,-5.3],[30,-4],[36.1,-6.3],[43.9,-3.8],[48.6,0],[51.1,0],[51.7,4],[50.4,-4.5],[52,-9],[48.9,-15.4],[52.6,-18.8],[50.8,-20.6],[50,-22.5],[50.8,-28.2],[44.9,-19.7],[45,-20.4],[43,-22.4],[40.5,-23.3],[37.7,-22.4],[36.2,-22.4],[37.7,-26.4],[41.8,-29.5],[43,-30],[47.8,-28.2],[46.4,-33.6],[47.8,-39.4],[41.1,-41.2],[43.9,-43.8],[38.3,-34.5],[38.7,-37.6],[37.9,-41.2],[32.3,-39.8],[32.6,-37.1],[34.2,-34.5],[35.2,-30.9],[30.6,-26.8],[27.5,-26.4],[25.3,-25.5],[23.1,-24.2],[20,-24.2],[26.5,-21.9],[24.3,-18.8],[28.1,-17.5],[29.8,-17.5],[22.5,-17],[20.3,-16.6],[13.5,-16.6],[14.8,-19.7],[14.1,-21],[10.1,-19.2],[8.5,-19.7],[10,-22.4],[4.2,-21.5],[3.6,-17.9],[7.3,-7.6],[4.5,-9.4],[3.9,-12.5],[1.4,-9],[2,-8],[1.7,-10.7],[-1.1,-5.3],[-3,-4.5],[-6,-8.5],[-5.9,-9.8],[-7.6,-9],[-6,-12.5],[-7.9,-12.7],[-11.3,-13.9],[-11.9,-15.2],[-9.8,-17.9],[-6,-21],[-4.2,-17.9],[-1.7,-17],[-3.2,-19.2],[-1.4,-20.6],[-1.1,-23.3],[.8,-24.6],[4.2,-26.4],[4.5,-27.3],[11.3,-27.7],[11.7,-29.1],[9.5,-29.5],[16,-29.5],[17.9,-31.8],[18.2,-34],[18.4,-35.8],[20,-32.7],[10.7,-34.5],[5.8,-32.7],[3.1,-30.4],[.2,-31.3],[-3.2,-32.7],[-5,-34.5],[-10.1,-31.3],[-10.4,-26.4],[-12.3,-20.1],[-15,-15],[-17.5,-9.8],[-16.3,-8.1],[-20,-10.7],[-21.6,-8.1],[-22.8,-5.4],[-27.5,-13],[-29.6,-12.5],[-29.9,-14.8],[-31.2,-17],[-33,-18.3],[-35.8,-19.7],[-36.1,-14.3],[-37.7,-12.1],[-40.4,-10.3],[-42,-22],[-38.6,-21],[-33.6,-20.6],[-32.7,-22.8],[-38.1,-25.3],[-39.2,-30.9],[-34.6,-27.3],[-34.6,-33.3],[-31.8,-37.4],[-28.6,-34.9],[-27.1,-38.5],[-38.4,-41.5],[-29.2,-23.7],[-26.8,-23.7],[-27.9,-27.3],[-24.7,-19.7],[-24.3,-23.7],[-22.5,-23.7],[-21.6,-21.5],[-19.1,-20.6],[-20.8,-27.3],[-16.6,-27.3],[-19.1,-32.2],[-14.9,-30.4],[-12.2,-30],[-10.1,-25.9],[-6.7,-26.8],[-21.6,-41],[-19.1,-40.5],[-13,-42.5],[-26.1,-48.6],[-26.4,-51.7],[-33.2,-53.9],[-23.7,-56.4],[-22.9,-58.4],[-11.6,-56.4],[-8,-48.1],[-5.2,-44.8],[-3.6,-43.2],[-3.6,-48.8],[-1.4,-46.7],[3.3,-47.6],[-.4,-53.2],[2.8,-54.8],[5,-51.7],[4,-39.4],[4.4,-39.4],[7.6,-40.7],[10.1,-41.2],[9.2,-43.4],[16.3,-40.5],[14.6,-46.5],[21.3,-45],[12,-51.7],[14.3,-51],[14.4,-53.5],[19.5,-50.1],[22.6,-50.1],[27.8,-47.9],[30.6,-47.6],[33,-49.7],[27.8,-52.4],[35.9,-51.5],[36.5,-55.3],[38.7,-58.9],[43.2,-55.5],[44.7,-62],[18,-64],[47.1,-50.1],[52.2,-47.4],[53.1,-50.1],[26,-34.9],[26,-32.2],[26.5,-39.4],[43,-36.7],[43.6,-41.6],
[58.4,32.4],[62.6,15.8],[58.7,14.2],[71.7,4.9],[65.7,0],[71.5,.5],[56.5,0],[58.4,-1],[76.6,-20.6],[71.2,-25.7],[60.4,-9.5],[57.4,-7.3],[57.8,-19.1],[60.4,-19.1],[59,-24.6],[61.4,-22.8],[59.8,-32.8],[58.7,-42.8],[60.9,-45.2],[61.7,-51],[57.8,-54.3],[62.3,-57.4],[70.4,-58.8],[75.4,-73.7]];
const dOtherCluster=[[-21.6,10.8],[-21.9,9.9],[-19.1,12.5],[-19.4,9],[-20.3,7.6],[-17.8,12.1],[-22.8,12.5],[-4.2,4.5],[-4.8,4.9],[-3.6,2.7],[-10.1,5.4],[-1.1,5.4],[2.3,3.6],[2.6,4.5],[8.9,6.3],[9.5,5.4],[8.2,0],[8.9,.5],[14.8,2.7],[15.4,1.8],[-7.3,-1.3],[-9.1,-1.8],[-11.9,-3.6],[-11.9,-5.4],[-.8,-.9],[2.3,-.9],[-6,-8],[-6,-9],[-5.7,-10.7],[1.7,-8],[1.4,-9.8],[2,-10.7],[-17.2,-8.9],[-17.8,-10.3],[-16.6,-8],[-22.8,-5.8],[-22.2,-7.1],[-1.7,-17],[-3.6,-19.2],[-3,-19.7],[-1.7,-22.4],[-.8,-23.7],[.2,-24.2],[1.1,-25.9],[4.5,-26.4],[11.3,-28.2],[11.7,-28.6],[11.3,-27.3],[23.1,-12.5],[22.5,-11.6],[23.8,-13.4],[20,-16.1],[32.8,-.9],[30,-6.3],[30,-4.5],[37.7,-21.5],[37.4,-23.3],[17.9,-33.1],[18.2,-34.9],[9.5,-41.2],[9.2,-42.1],[3.9,-39.4],[-29.6,-12.5],[-29.9,-13],[-33.6,-19.7],[-38.3,-21],[-38.9,-21.9],[-27.8,16.6],[-19.1,16.6],[19.1,10.3],[17.2,12.5],[9.5,32.7],[8.9,39],[17.9,25.1],[11,26],[-.8,39.4],[-12.6,47.5],[-10.4,20.6],[15.7,3.1]];

// ---------- Drawing helpers
const svgNS='http://www.w3.org/2000/svg';
function mk(tag,attrs,parent){
  const el=document.createElementNS(svgNS,tag);
  for(const k in attrs){el.setAttribute(k,attrs[k]);}
  parent.appendChild(el);
  return el;
}
function linear(d0,p0,d1,p1){return v=>p0+(v-d0)*(p1-p0)/(d1-d0);}

const AXIS='#808080',GRID='#e2e2e2',ZERO='#6e6e6e';

function drawFrame(g,fr,xs,ys,xTicks,xLabels,xMinor,yTicks,yLabels,yMinor,fs,xGrid){
  // gridlines
  yTicks.forEach(v=>{
    const y=ys(v);
    const line=mk('line',{x1:fr.left,x2:fr.right+2,y1:y,y2:y,stroke:v===0?ZERO:GRID,'stroke-width':3},g);
    
    
  });
  xGrid.forEach(v=>{
    const x=xs(v);
    const line=mk('line',{x1:x,x2:x,y1:fr.top,y2:fr.bottom,stroke:v===0?ZERO:GRID,'stroke-width':3},g);
    
    
  });
  // axes
  const yAxis=mk('line',{x1:fr.left,x2:fr.left,y1:fr.top+20,y2:fr.bottom,stroke:AXIS,'stroke-width':3},g);
  
  
  const xAxis=mk('line',{x1:fr.left,x2:fr.right-20,y1:fr.bottom,y2:fr.bottom,stroke:AXIS,'stroke-width':3},g);
  
  
  const upArrow=mk('polygon',{points:`${fr.left-10},${fr.top+39} ${fr.left},${fr.top} ${fr.left+10},${fr.top+39}`,fill:'#8a8a8a'},g);
  
  
  const rightArrow=mk('polygon',{points:`${fr.right-41},${fr.bottom-10} ${fr.right},${fr.bottom} ${fr.right-41},${fr.bottom+10}`,fill:'#8a8a8a'},g);
  
  
  // ticks
  yTicks.forEach((v,i)=>{
    const y=ys(v);
    const t=mk('line',{x1:fr.left-14,x2:fr.left,y1:y,y2:y,stroke:AXIS,'stroke-width':3},g);
    
    
    const lab=mk('text',{x:fr.labelRight,y:y+fr.yLabelDy,'text-anchor':'end','font-size':fs},g);
    lab.textContent=yLabels[i];
    
    
  });
  yMinor.forEach(v=>{
    const y=ys(v);
    const t=mk('line',{x1:fr.left-8,x2:fr.left,y1:y,y2:y,stroke:AXIS,'stroke-width':3},g);
    
    
  });
  xTicks.forEach((v,i)=>{
    const x=xs(v);
    const t=mk('line',{x1:x,x2:x,y1:fr.bottom,y2:fr.bottom+14,stroke:AXIS,'stroke-width':3},g);
    
    
    const lab=mk('text',{x:x,y:fr.xLabelY,'text-anchor':'middle','font-size':fs},g);
    lab.textContent=xLabels[i];
    
    
  });
  xMinor.forEach(v=>{
    const x=xs(v);
    const t=mk('line',{x1:x,x2:x,y1:fr.bottom,y2:fr.bottom+8,stroke:AXIS,'stroke-width':3},g);
    
    
  });
}

function drawPoints(g,pts,xs,ys,scale,style,seriesName){
  pts.forEach(p=>{
    const c=mk('circle',{cx:xs(p[0]*scale),cy:ys(p[1]*scale),r:style.r,fill:style.fill,stroke:style.stroke,'stroke-width':style.sw},g);
    
    
  });
}

const STYLE={
  is:{r:14.3,fill:'#ad3000',stroke:'#7a1f00',sw:3},
  ir:{r:14.3,fill:'#0075b8',stroke:'#0a5a8a',sw:3},
  mfa:{r:14.3,fill:'#ae2b63',stroke:'#7d1a48',sw:3},
  prog:{r:14.3,fill:'#009f62',stroke:'#0a7d50',sw:3},
  hpm:{r:14.3,fill:'#ff9900',stroke:'#c96a00',sw:3},
  aa:{r:14.3,fill:'#2c2d97',stroke:'#1a1a75',sw:3},
  pfa:{r:14.3,fill:'#d998fa',stroke:'#9a5fb5',sw:3},
  other:{r:14,fill:'rgba(190,190,190,.3)',stroke:'rgba(130,130,130,.35)',sw:3}
};

// Panel a
(function(){
  const g=document.getElementById('panel-a');
  const fr={left:201,right:1322,top:457,bottom:1585,labelRight:178,yLabelDy:17,xLabelY:1654};
  const xs=linear(-10,335.7,10,1236),ys=linear(20,576,-20,1538);
  drawFrame(g,fr,xs,ys,aXTicks,aXTickLabels,aXMinorTicks,aYTicks,aYTickLabels,aYMinorTicks,42,aXTicks);
  drawPoints(g,aIS,xs,ys,1,STYLE.is,'point-is');
  drawPoints(g,aIR,xs,ys,1,STYLE.ir,'point-ir');
})();
// Panel b
(function(){
  const g=document.getElementById('panel-b');
  const fr={left:198,right:1321,top:2313,bottom:3442,labelRight:176,yLabelDy:17,xLabelY:3510};
  const xs=linear(-5,386,5,1010),ys=linear(15,2426,-25,3350);
  drawFrame(g,fr,xs,ys,bXTicks,bXTickLabels,bXMinorTicks,bYTicks,bYTickLabels,bYMinorTicks,42,bXTicks);
  drawPoints(g,bIS,xs,ys,1,STYLE.is,'point-is');
  drawPoints(g,bIR,xs,ys,1,STYLE.ir,'point-ir');
})();
// Panel c
(function(){
  const g=document.getElementById('panel-c');
  const fr={left:1589,right:3232,top:455,bottom:1594,labelRight:1569,yLabelDy:16,xLabelY:1657};
  const xs=linear(-0.1,1803.6,0,2517),ys=linear(0.06,522,-0.1,1594);
  drawFrame(g,fr,xs,ys,cXTicks,cXTickLabels,cXMinorTicks,cYTicks,cYTickLabels,cYMinorTicks,38,cXTicks);
  cYExtraTicks.forEach((v,i)=>{
    const lab=mk('text',{x:fr.labelRight,y:ys(v)+fr.yLabelDy,'text-anchor':'end','font-size':38},g);
    lab.textContent=cYExtraLabels[i];
    
    
  });
  drawPoints(g,cLcMfa,xs,ys,0.001,STYLE.mfa,'point-lc-mfa');
  drawPoints(g,cProgestin,xs,ys,0.001,STYLE.prog,'point-progestin-steroid');
  drawPoints(g,cHpm,xs,ys,0.001,STYLE.hpm,'point-hpm');
  drawPoints(g,cAa,xs,ys,0.001,STYLE.aa,'point-aa');
  drawPoints(g,cOther,xs,ys,0.001,STYLE.other,'point-other-metabolite');
  drawPoints(g,cOtherCluster,xs,ys,0.001,STYLE.other,'point-other-metabolite');
})();
// Panel d
(function(){
  const g=document.getElementById('panel-d');
  const fr={left:1589,right:3232,top:2314,bottom:3452,labelRight:1569,yLabelDy:16,xLabelY:3515};
  const xs=linear(-0.1,1589,0,2411),ys=linear(0.1,2426,-0.08,3452);
  drawFrame(g,fr,xs,ys,dXTicks,dXTickLabels,dXMinorTicks,dYTicks,dYTickLabels,dYMinorTicks,38,[0]);
  dYExtraTicks.forEach((v,i)=>{
    const lab=mk('text',{x:fr.labelRight,y:ys(v)+fr.yLabelDy,'text-anchor':'end','font-size':38},g);
    lab.textContent=dYExtraLabels[i];
    
    
  });
  drawPoints(g,dLcMfa,xs,ys,0.001,STYLE.mfa,'point-lc-mfa');
  drawPoints(g,dLcPfa,xs,ys,0.001,STYLE.pfa,'point-lc-pfa');
  drawPoints(g,dMcFa,xs,ys,0.001,STYLE.hpm,'point-mc-fa');
  drawPoints(g,dAa,xs,ys,0.001,STYLE.aa,'point-aa');
  drawPoints(g,dOther,xs,ys,0.001,STYLE.other,'point-other-metabolite');
  drawPoints(g,dOtherCluster,xs,ys,0.001,STYLE.other,'point-other-metabolite');
})();
</script>
</body>
</html>
